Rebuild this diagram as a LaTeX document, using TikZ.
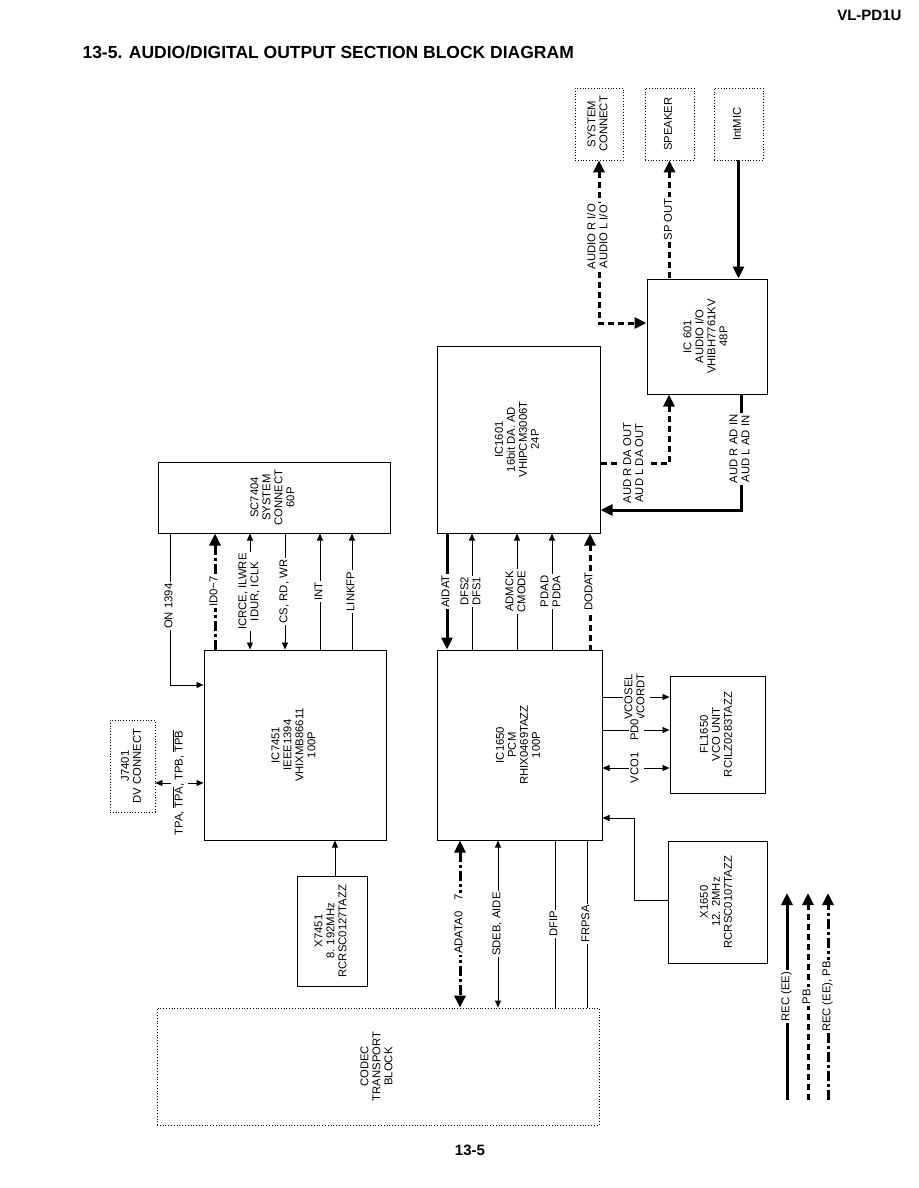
\documentclass[tikz,border=0pt]{standalone}
\usepackage{fontspec}
\setmainfont{Liberation Sans}
\usepackage{graphicx}
\usetikzlibrary{arrows.meta}

% rotated, centred block text
\newcommand{\rt}[1]{\rotatebox{90}{\begin{tabular}{@{}c@{}}#1\end{tabular}}}

\begin{document}
\begin{tikzpicture}[x=1pt,y=-1pt,
    font=\fontsize{11.3}{12}\selectfont,
    >={Triangle[length=7pt,width=6pt]},
    blk/.style={draw,line width=1pt,inner sep=0pt},
    ext/.style={draw,dotted,line width=0.8pt,inner sep=0pt},
    sig/.style={line width=0.8pt},
    rec/.style={line width=3pt,>={Triangle[length=12pt,width=11pt]}},
    pb/.style={rec,dash pattern=on 6pt off 4pt},
    recpb/.style={rec,dash pattern=on 10pt off 3pt on 3pt off 3pt},
    lbl/.style={fill=white,inner sep=1.5pt}]
  \useasboundingbox (0,0) rectangle (918,1188);

  \node[anchor=east,font=\bfseries\fontsize{15}{17}\selectfont] (model) at (905,15) {VL-PD1U};
  \node[anchor=west,font=\bfseries\fontsize{17.5}{20}\selectfont] (title) at (79,52)
    {13-5. AUDIO/DIGITAL OUTPUT SECTION BLOCK DIAGRAM};
  \node[font=\bfseries\fontsize{15}{17}\selectfont] (page) at (470,1150) {13-5};

  % blocks
  \node[ext,minimum width=48,minimum height=72] (sysc) at (599,124) {\rt{SYSTEM\\CONNECT}};
  \node[ext,minimum width=49,minimum height=72] (spk) at (669.5,124) {\rt{SPEAKER}};
  \node[ext,minimum width=49,minimum height=72] (mic) at (738.5,124) {\rt{IntMIC}};
  \node[blk,minimum width=120,minimum height=115] (ic601) at (707,336.5)
    {\rt{IC 601\\AUDIO I/O\\VHIBH7761KV\\48P}};
  \node[blk,minimum width=163,minimum height=187] (ic1601) at (518.5,439.5)
    {\rt{IC1601\\16bit DA. AD\\VHIPCM3006T\\24P}};
  \node[blk,minimum width=232,minimum height=71] (sc) at (274,497.5)
    {\rt{SC7404\\SYSTEM\\CONNECT\\60P}};
  \node[blk,minimum width=182,minimum height=190] (ic7451) at (295,745)
    {\rt{IC7451\\IEEE1394\\VHIXMB86611\\100P}};
  \node[blk,minimum width=165,minimum height=190] (ic1650) at (519.5,745)
    {\rt{IC1650\\PCM\\RHIX0469TAZZ\\100P}};
  \node[blk,minimum width=95,minimum height=117] (fl1650) at (717.5,734.5)
    {\rt{FL1650\\VCO UNIT\\RCILZ0283TAZZ}};
  \node[ext,minimum width=45,minimum height=92] (j7401) at (132.5,766) {\rt{J7401\\DV CONNECT}};
  \node[blk,minimum width=70,minimum height=110] (x7451) at (332,931)
    {\rt{X7451\\8. 192MHz\\RCRSC0127TAZZ}};
  \node[blk,minimum width=99,minimum height=122] (x1650) at (717.5,902)
    {\rt{X1650\\12. 2MHz\\RCRSC0107TAZZ}};
  \node[ext,minimum width=442,minimum height=117] (codec) at (378,1066.5)
    {\rt{CODEC\\TRANSPORT\\BLOCK}};

  % audio i/o
  \draw[pb,<->] (sysc.south) -- node[lbl,pos=0.47]{\rt{AUDIO R I/O\\AUDIO L I/O}}
    (sysc.south |- 0,323) -- (ic601.west |- 0,323);
  \draw[pb,<-] (spk.south) -- node[lbl]{\rt{SP OUT}} (spk.south |- ic601.north);
  \draw[rec,->] (mic.south) -- (mic.south |- ic601.north);
  \draw[pb,->] (ic1601.east |- 0,463) -- node[lbl]{\rt{AUD R DA OUT\\AUD L DA OUT}}
    (669,463) -- (ic601.south -| 669,0);
  \draw[rec,->] (ic601.south -| 741,0) -- node[lbl,pos=0.47]{\rt{AUD R AD IN\\AUD L AD IN}}
    (741,510) -- (ic1601.east |- 0,510);

  % system connect - 1394 link
  \draw[sig,->] (sc.south -| 170,0) -- node[lbl,pos=0.48]{\rt{ON 1394}}
    (170,685) -- (ic7451.west |- 0,685);
  \draw[recpb,<-] (sc.south -| 215,0) -- node[lbl]{\rt{ID0\textasciitilde7}} (ic7451.north -| 215,0);
  \draw[sig,<->] (sc.south -| 250,0) -- node[lbl]{\rt{ICRCE, ILWRE\\IDUR, ICLK}} (ic7451.north -| 250,0);
  \draw[sig,->] (sc.south -| 285,0) -- node[lbl]{\rt{CS, RD, WR}} (ic7451.north -| 285,0);
  \draw[sig,<-] (sc.south -| 320,0) -- node[lbl]{\rt{INT}} (ic7451.north -| 320,0);
  \draw[sig,<-] (sc.south -| 352,0) -- node[lbl]{\rt{LINKFP}} (ic7451.north -| 352,0);
  \draw[sig,<->] (j7401.east |- 0,783) -- node[lbl]
    {\rt{TPA, $\overline{\mbox{TPA}}$, TPB, $\overline{\mbox{TPB}}$}} (ic7451.west |- 0,783);
  \draw[sig,->] (x7451.north -| 335,0) -- (ic7451.south -| 335,0);

  % pcm - da/ad
  \draw[rec,->] (ic1601.south -| 447,0) -- node[lbl]{\rt{AIDAT}} (ic1650.north -| 447,0);
  \draw[sig,<-] (ic1601.south -| 472,0) -- node[lbl]{\rt{DFS2\\DFS1}} (ic1650.north -| 472,0);
  \draw[sig,<-] (ic1601.south -| 517,0) -- node[lbl]{\rt{ADMCK\\CMODE}} (ic1650.north -| 517,0);
  \draw[sig,<-] (ic1601.south -| 552,0) -- node[lbl]{\rt{PDAD\\PDDA}} (ic1650.north -| 552,0);
  \draw[pb,<-] (ic1601.south -| 590,0) -- node[lbl]{\rt{DODAT}} (ic1650.north -| 590,0);

  % pcm - vco, clock
  \draw[sig,->] (ic1650.east |- 0,697) -- node[lbl]{\rt{VCOSEL\\VCORDT}} (fl1650.west |- 0,697);
  \draw[sig,->] (ic1650.east |- 0,730) -- node[lbl]{\rt{PD0}} (fl1650.west |- 0,730);
  \draw[sig,<->] (ic1650.east |- 0,768) -- node[lbl]{\rt{VCO1}} (fl1650.west |- 0,768);
  \draw[sig,->] (x1650.west |- 0,900) -| (634,818) -- (ic1650.east |- 0,818);

  % pcm - codec
  \draw[recpb,<->] (ic1650.south -| 460,0) -- node[lbl]{\rt{ADATA0\quad7}} (codec.north -| 460,0);
  \draw[sig,<->] (ic1650.south -| 498,0) -- node[lbl]{\rt{SDEB, AIDE}} (codec.north -| 498,0);
  \draw[sig] (ic1650.south -| 555,0) -- node[lbl]{\rt{DFIP}} (codec.north -| 555,0);
  \draw[sig] (ic1650.south -| 587,0) -- node[lbl]{\rt{FRPSA}} (codec.north -| 587,0);

  % legend
  \coordinate (leg1) at (787,1100); \coordinate (top1) at (787,893);
  \coordinate (leg2) at (808,1100); \coordinate (top2) at (808,893);
  \coordinate (leg3) at (828,1100); \coordinate (top3) at (828,893);
  \draw[rec,->] (leg1) -- node[lbl]{\rt{REC (EE)}} (top1);
  \draw[pb,->] (leg2) -- node[lbl]{\rt{PB}} (top2);
  \draw[recpb,->] (leg3) -- node[lbl]{\rt{REC (EE), PB}} (top3);
\end{tikzpicture}
\end{document}
